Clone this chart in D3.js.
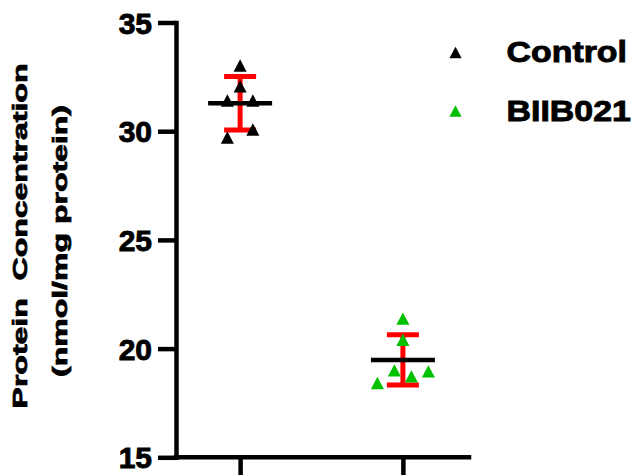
<!DOCTYPE html>
<html>
<head>
<meta charset="utf-8">
<script src="https://cdn.jsdelivr.net/npm/d3@7"></script>
<style>
  html, body { margin: 0; padding: 0; background: #fff; }
  svg { display: block; }
  text { font-family: "Liberation Sans", Arial, sans-serif; font-weight: bold; fill: #000; }
</style>
</head>
<body>
<svg id="chart" width="634" height="475"></svg>
<script>
// ---- data ----
const groups = ["Control", "BIIB021"];
const controlValues = [33.02, 32.06, 31.41, 31.41, 30.08, 29.71];
const biib021Values = [21.38, 20.41, 19.00, 18.72, 18.95, 18.42];
const controlJitter = [0, 0, -3, 3, 3, -3];
const biib021Jitter = [0, 0, -2, 2, 6, -6];
const yTicks = [15, 20, 25, 30, 35];
const legendLabels = ["Control", "BIIB021"];
const colors = ["#000000", "#00c000"];

const series = [
  { name: groups[0], values: controlValues, jitter: controlJitter, color: colors[0] },
  { name: groups[1], values: biib021Values, jitter: biib021Jitter, color: colors[1] }
];

const svg = d3.select("#chart");
const axisW = 4.5;

const x = d3.scalePoint().domain(groups).range([175, 468]).padding(0.4);
const y = d3.scaleLinear().domain([15, 35]).range([457.3, 22.5]);
const jitterUnit = 4.25;

// triangle centred on its bounding box
const tri = {
  draw(ctx, size) {
    const w = Math.sqrt(size);
    const h = w * 0.95;
    ctx.moveTo(0, -h / 2);
    ctx.lineTo(w / 2, h / 2);
    ctx.lineTo(-w / 2, h / 2);
    ctx.closePath();
  }
};

// axes
const yAxis = d3.axisLeft(y).tickValues(yTicks).tickSize(18).tickSizeOuter(0).tickPadding(6);
const gy = svg.append("g").attr("transform", "translate(176,0)").call(yAxis);
gy.selectAll("text").style("font-size", "30px").attr("dy", "0.35em")
  .style("font-family", "'Liberation Sans', Arial, sans-serif").style("font-weight", "bold")
  .attr("stroke", "#000").attr("stroke-width", 0.9).attr("fill", "#000");
gy.selectAll("line").attr("stroke", "#000").attr("stroke-width", axisW);
gy.select(".domain").attr("stroke", "#000").attr("stroke-width", axisW).attr("stroke-linecap", "square");

const xAxis = d3.axisBottom(x).tickSize(22).tickSizeOuter(0).tickFormat("");
const gx = svg.append("g").attr("transform", "translate(0,457.3)").call(xAxis);
gx.selectAll("line").attr("stroke", "#000").attr("stroke-width", axisW);
gx.select(".domain").attr("stroke", "#000").attr("stroke-width", axisW).attr("stroke-linecap", "square")
  .attr("d", `M176,0H469`);

// stats
series.forEach(s => {
  const cx = x(s.name);
  const m = d3.mean(s.values);
  const sd = d3.deviation(s.values);
  const g = svg.append("g");
  g.append("line").attr("x1", cx).attr("x2", cx).attr("y1", y(m + sd)).attr("y2", y(m - sd))
    .attr("stroke", "#ff0000").attr("stroke-width", 5);
  [m + sd, m - sd].forEach(v => {
    g.append("line").attr("x1", cx - 16).attr("x2", cx + 16).attr("y1", y(v)).attr("y2", y(v))
      .attr("stroke", "#ff0000").attr("stroke-width", 5);
  });
  g.append("line").attr("x1", cx - 32).attr("x2", cx + 32).attr("y1", y(m)).attr("y2", y(m))
    .attr("stroke", "#000").attr("stroke-width", 4.5);
  g.selectAll("path.pt").data(s.values).enter().append("path")
    .attr("class", "pt")
    .attr("d", d3.symbol().type(tri).size(170))
    .attr("transform", (d, i) => `translate(${cx + s.jitter[i] * jitterUnit},${y(d)})`)
    .attr("fill", s.color);
});

// legend
const legendY = [52.5, 111];
legendLabels.forEach((lab, i) => {
  svg.append("path").attr("d", d3.symbol().type(tri).size(150))
    .attr("transform", `translate(455.5,${legendY[i]})`).attr("fill", colors[i]);
  svg.append("text")
    .attr("transform", `translate(506.5,${legendY[i] + 9.5}) scale(1.13,1)`)
    .style("font-size", "30px")
    .attr("stroke", "#000").attr("stroke-width", 0.9)
    .text(lab);
});

// y axis title
svg.append("text")
  .attr("transform", "translate(27.3,236) rotate(-90) scale(1,0.64)")
  .attr("text-anchor", "middle")
  .style("font-size", "32px")
  .style("white-space", "pre")
  .attr("stroke", "#000").attr("stroke-width", 1.2)
  .text("Protein  Concentration");
svg.append("text")
  .attr("transform", "translate(66.5,241) rotate(-90) scale(1,0.64)")
  .attr("text-anchor", "middle")
  .style("font-size", "32px")
  .attr("stroke", "#000").attr("stroke-width", 1.2)
  .text("(nmol/mg protein)");
</script>
</body>
</html>
